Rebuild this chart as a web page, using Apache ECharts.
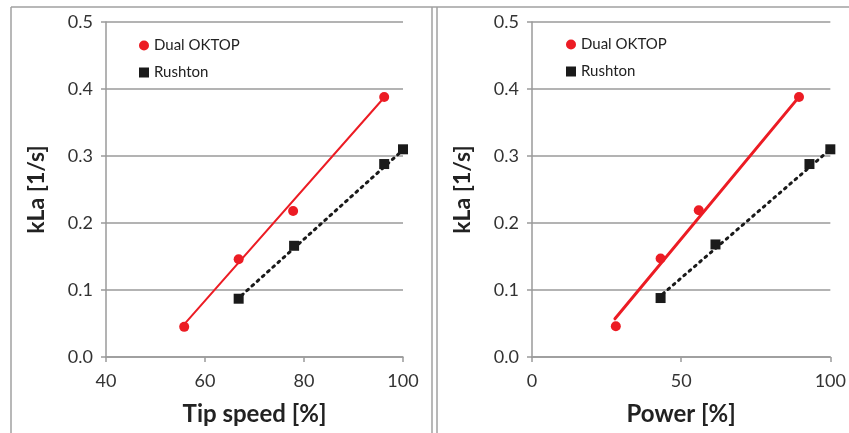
<!DOCTYPE html>
<html>
<head>
<meta charset="utf-8">
<script src="https://cdn.jsdelivr.net/npm/echarts@6/dist/echarts.min.js"></script>
<style>
  html, body { margin: 0; padding: 0; background: #fff; }
  #chart { width: 849px; height: 433px; }
</style>
</head>
<body>
<div id="chart"></div>
<script>
  // left panel: kLa vs tip speed
  var tipOktop = [[55.8, 0.045], [66.8, 0.146], [77.8, 0.218], [96.2, 0.388]]
  var tipRushton = [[66.8, 0.087], [78, 0.166], [96.2, 0.288], [100, 0.310]]
  var tipOktopTrend = [[55.7, 0.048], [95.8, 0.384]]
  var tipRushtonTrend = [[67.4, 0.092], [100, 0.309]]

  // right panel: kLa vs power
  var powOktop = [[28.1, 0.046], [43.1, 0.147], [55.9, 0.219], [89.5, 0.388]]
  var powRushton = [[43.1, 0.088], [61.5, 0.168], [93, 0.288], [100, 0.310]]
  var powOktopTrend = [[27.8, 0.057], [89.1, 0.386]]
  var powRushtonTrend = [[43.8, 0.094], [100.5, 0.312]]

  var red = '#ec1c24'
  var black = '#1a1a1a'
  var gridColor = '#9a9a9a'
  var font = 'Lato, "Open Sans", sans-serif'

  var chart = echarts.init(document.getElementById('chart'))

  function xAxis(idx, min, max, interval, name) {
    return {
      type: 'value', gridIndex: idx, min: min, max: max, interval: interval,
      name: name, nameLocation: 'middle', nameGap: 45,
      nameTextStyle: { fontFamily: font, fontSize: 24, fontWeight: 'bold', color: '#222' },
      axisLine: { lineStyle: { color: gridColor, width: 1.5 } },
      axisTick: { show: true, length: 5, lineStyle: { color: gridColor, width: 1.5 } },
      axisLabel: { fontFamily: font, fontSize: 18, color: '#333', margin: 15 },
      splitLine: { show: false }
    }
  }

  function yAxis(idx) {
    return {
      type: 'value', gridIndex: idx, min: 0, max: 0.5, interval: 0.1,
      name: 'kLa [1/s]', nameLocation: 'middle', nameGap: 58,
      nameTextStyle: { fontFamily: font, fontSize: 23, fontWeight: 'bold', color: '#222' },
      axisLine: { show: true, lineStyle: { color: gridColor, width: 1.5 } },
      axisTick: { show: true, length: 5, lineStyle: { color: gridColor, width: 1.5 } },
      axisLabel: { fontFamily: font, fontSize: 18, color: '#333', margin: 13,
        formatter: function (v) { return v.toFixed(1) } },
      splitLine: { lineStyle: { color: gridColor, width: 1.5 } }
    }
  }

  function legend(left, top) {
    return {
      orient: 'vertical', left: left, top: top, itemGap: 12,
      itemWidth: 10, itemHeight: 10, selectedMode: false,
      textStyle: { fontFamily: font, fontSize: 15, color: '#222' },
      data: [
        { name: 'Dual OKTOP', icon: 'circle' },
        { name: 'Rushton', icon: 'rect' }
      ]
    }
  }

  function points(name, data, idx, color, symbol, size) {
    return {
      name: name, type: 'scatter', xAxisIndex: idx, yAxisIndex: idx,
      data: data, symbol: symbol, symbolSize: size, z: 5,
      itemStyle: { color: color, opacity: 1 }
    }
  }

  function trend(data, idx, color, width, dash) {
    return {
      type: 'line', xAxisIndex: idx, yAxisIndex: idx, data: data,
      symbol: 'none', silent: true, z: 3,
      lineStyle: { color: color, width: width, type: dash, cap: 'round' }
    }
  }

  chart.setOption({
    animation: false,
    grid: [
      { left: 106, top: 22, width: 297, bottom: 76 },
      { left: 532, top: 22, width: 299, bottom: 76 }
    ],
    legend: [legend(134, 33), legend(561, 32)],
    xAxis: [xAxis(0, 40, 100, 20, 'Tip speed [%]'), xAxis(1, 0, 100, 50, 'Power [%]')],
    yAxis: [yAxis(0), yAxis(1)],
    series: [
      trend(tipOktopTrend, 0, red, 2, 'solid'),
      trend(tipRushtonTrend, 0, black, 3, [2, 5]),
      points('Dual OKTOP', tipOktop, 0, red, 'circle', 10),
      points('Rushton', tipRushton, 0, black, 'rect', 10),
      trend(powOktopTrend, 1, red, 3, 'solid'),
      trend(powRushtonTrend, 1, black, 3, [2, 5]),
      points('Dual OKTOP', powOktop, 1, red, 'circle', 10),
      points('Rushton', powRushton, 1, black, 'rect', 10)
    ],
    graphic: [
      { type: 'line', shape: { x1: 11, y1: 7, x2: 849, y2: 7 }, style: { stroke: '#a0a0a0', lineWidth: 1.5 } },
      { type: 'line', shape: { x1: 11, y1: 7, x2: 11, y2: 433 }, style: { stroke: '#a0a0a0', lineWidth: 1.5 } },
      { type: 'line', shape: { x1: 432, y1: 7, x2: 432, y2: 433 }, style: { stroke: '#a0a0a0', lineWidth: 1.5 } },
      { type: 'line', shape: { x1: 437, y1: 7, x2: 437, y2: 433 }, style: { stroke: '#a0a0a0', lineWidth: 1.5 } }
    ]
  })
</script>
</body>
</html>
